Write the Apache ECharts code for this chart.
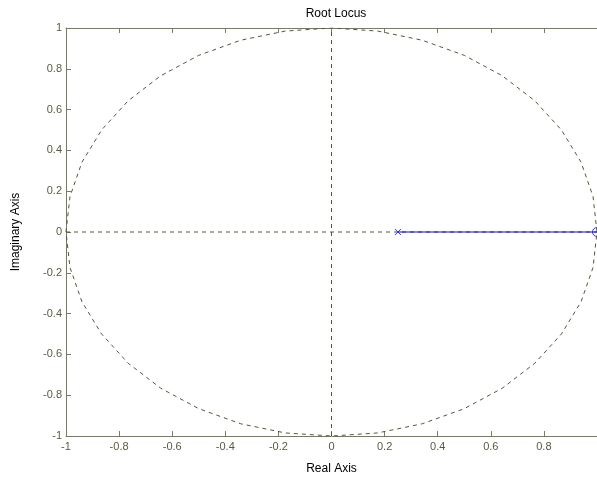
<!DOCTYPE html>
<html>
<head>
<meta charset="utf-8">
<script src="https://cdn.jsdelivr.net/npm/echarts@6/dist/echarts.min.js"></script>
<style>html,body{margin:0;padding:0;background:#fff;}#c{width:597px;height:482px;}</style>
</head>
<body>
<div id="c"></div>
<script>
// Tick labels
var xTicks = [-1, -0.8, -0.6, -0.4, -0.2, 0, 0.2, 0.4, 0.6, 0.8, 1];
var yTicks = [-1, -0.8, -0.6, -0.4, -0.2, 0, 0.2, 0.4, 0.6, 0.8, 1];
// Root locus branch (real axis segment) from pole to zero
var locusX = [0.25, 1];
var locusY = [0, 0];
// Open-loop pole and zero
var poles = [[0.25, 0]];
var zeros = [[1, 0]];
// Unit circle guide (z-plane stability boundary)
var circleX = [1, 0.985, 0.940, 0.866, 0.766, 0.643, 0.5, 0.342, 0.174, 0, -0.174, -0.342, -0.5, -0.643, -0.766, -0.866, -0.940, -0.985, -1,
               -0.985, -0.940, -0.866, -0.766, -0.643, -0.5, -0.342, -0.174, 0, 0.174, 0.342, 0.5, 0.643, 0.766, 0.866, 0.940, 0.985, 1];
var circleY = [0, 0.174, 0.342, 0.5, 0.643, 0.766, 0.866, 0.940, 0.985, 1, 0.985, 0.940, 0.866, 0.766, 0.643, 0.5, 0.342, 0.174, 0,
               -0.174, -0.342, -0.5, -0.643, -0.766, -0.866, -0.940, -0.985, -1, -0.985, -0.940, -0.866, -0.766, -0.643, -0.5, -0.342, -0.174, 0];
// Axis guide lines
var hLine = [[-1, 0], [1, 0]];
var vLine = [[0, -1], [0, 1]];

var axisCol = '#7b7b5c';
var gridCol = '#55553a';
var labelCol = '#5a5a40';
var font = 'Liberation Sans, Arial, sans-serif';

function zip(a, b) { return a.map(function (v, i) { return [v, b[i]]; }); }

var chart = echarts.init(document.getElementById('c'), null, {renderer: 'canvas'});
chart.setOption({
  animation: false,
  backgroundColor: '#ffffff',
  title: {
    text: 'Root Locus', left: 331, top: 3, textAlign: 'center',
    textStyle: {fontFamily: font, fontSize: 12, fontWeight: 'normal', color: '#000'}
  },
  grid: {left: 66, right: 0, top: 28, bottom: 46},
  xAxis: [{
    type: 'value', min: -1, max: 1, interval: 0.2, position: 'bottom',
    name: 'Real Axis', nameLocation: 'middle', nameGap: 27,
    nameTextStyle: {fontFamily: font, fontSize: 12, color: '#000'},
    axisLine: {show: true, onZero: false, lineStyle: {color: axisCol, width: 1}},
    axisTick: {show: true, inside: true, length: 5, lineStyle: {color: axisCol}},
    axisLabel: {fontFamily: font, fontSize: 11, color: labelCol, margin: 5, showMaxLabel: false,
      formatter: function (v) { return String(Math.round(v * 10) / 10); }},
    splitLine: {show: false}
  }, {
    type: 'value', min: -1, max: 1, interval: 0.2, position: 'top',
    axisLine: {show: true, onZero: false, lineStyle: {color: axisCol, width: 1}},
    axisTick: {show: true, inside: true, length: 5, lineStyle: {color: axisCol}},
    axisLabel: {show: false}, splitLine: {show: false}
  }],
  yAxis: [{
    type: 'value', min: -1, max: 1, interval: 0.2, position: 'left',
    name: 'Imaginary Axis', nameLocation: 'middle', nameGap: 44,
    nameTextStyle: {fontFamily: font, fontSize: 12, color: '#000'},
    axisLine: {show: true, onZero: false, lineStyle: {color: axisCol, width: 1}},
    axisTick: {show: true, inside: true, length: 5, lineStyle: {color: axisCol}},
    axisLabel: {fontFamily: font, fontSize: 11, color: labelCol, margin: 4,
      formatter: function (v) { return String(Math.round(v * 10) / 10); }},
    splitLine: {show: false}
  }],
  series: [
    {type: 'line', data: zip(circleX, circleY), symbol: 'none', silent: true,
      lineStyle: {color: gridCol, width: 1, type: [4, 4]}},
    {type: 'line', data: hLine, symbol: 'none', silent: true,
      lineStyle: {color: gridCol, width: 1, type: [4, 4]}},
    {type: 'line', data: vLine, symbol: 'none', silent: true,
      lineStyle: {color: gridCol, width: 1, type: [4, 4]}},
    {type: 'line', data: zip(locusX, locusY), symbol: 'none',
      lineStyle: {color: '#0000ff', width: 1}},
    {type: 'scatter', data: poles, symbol: 'path://M0,0L10,10M10,0L0,10', symbolSize: 6,
      itemStyle: {color: 'none', borderColor: '#0000ff', borderWidth: 1}},
    {type: 'scatter', data: zeros, symbol: 'circle', symbolSize: 9, clip: false,
      itemStyle: {color: 'rgba(255,255,255,0)', borderColor: '#0000ff', borderWidth: 1}}
  ]
});
</script>
</body>
</html>
